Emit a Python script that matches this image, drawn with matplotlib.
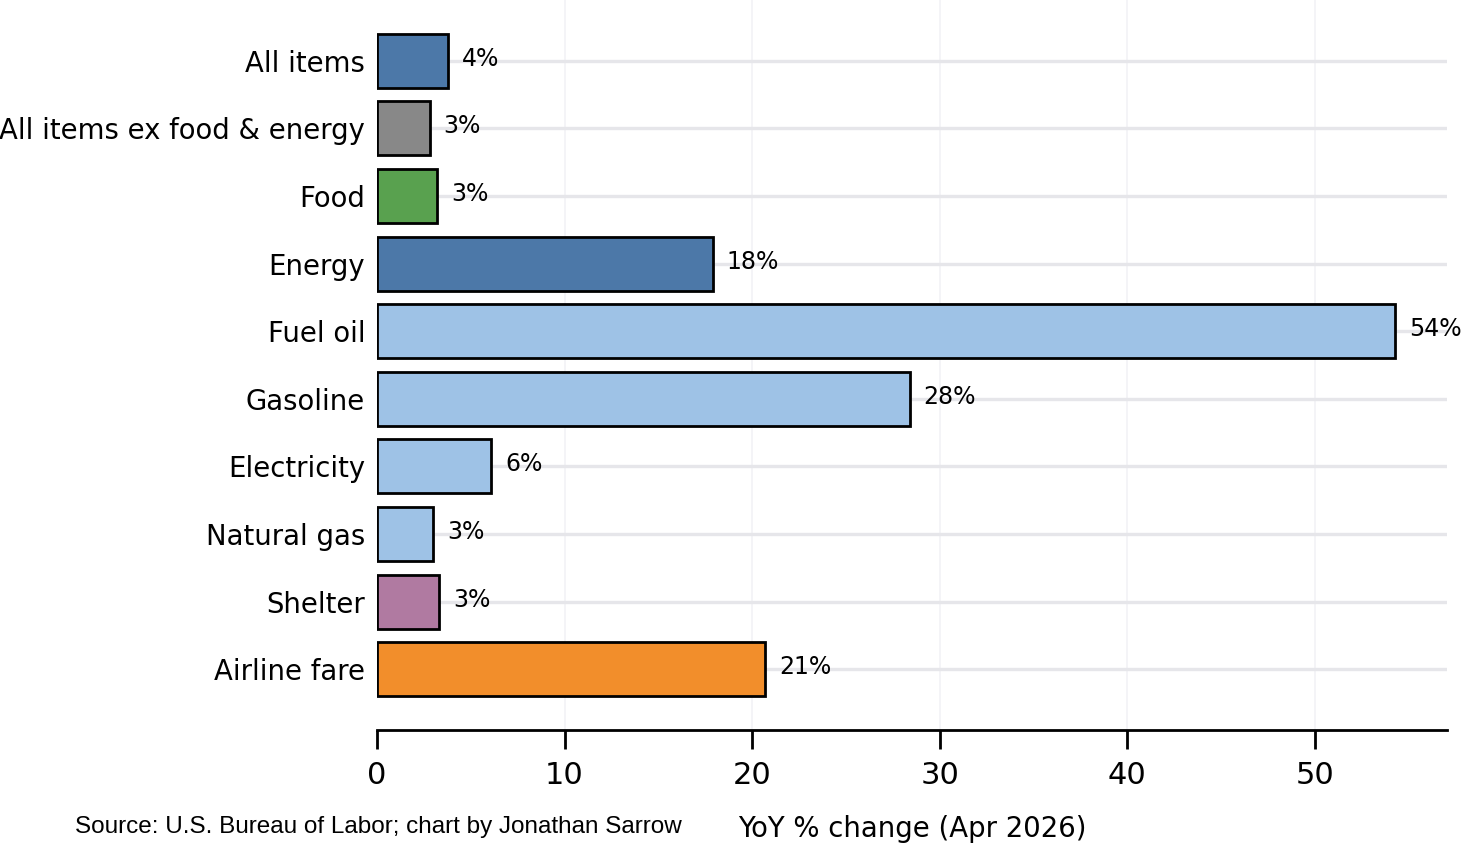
import numpy as np
import matplotlib
matplotlib.use("Agg")
import matplotlib.pyplot as plt

# data
categories = ["All items", "All items ex food & energy", "Food", "Energy", "Fuel oil",
              "Gasoline", "Electricity", "Natural gas", "Shelter", "Airline fare"]
yoy_change = [3.8, 2.8, 3.2, 17.9, 54.3, 28.4, 6.1, 3.0, 3.3, 20.7]
bar_colors = ["#4c78a8", "#888888", "#59a14f", "#4c78a8", "#9ec2e6",
              "#9ec2e6", "#9ec2e6", "#9ec2e6", "#b07aa1", "#f28e2b"]
x_ticks = [0, 10, 20, 30, 40, 50]

fig = plt.figure(figsize=(14.64, 8.44), dpi=100)
ax = fig.add_axes([377 / 1464, 1 - 730 / 844, (1447 - 377) / 1464, 730 / 844])

y = np.arange(len(categories))
ax.barh(y, yoy_change, height=0.8, color=bar_colors, edgecolor="black",
        linewidth=2, zorder=3)

for yi, v in zip(y, yoy_change):
    ax.text(v + 0.75, yi - 0.03, f"{v:.0f}%", va="center", ha="left",
            fontsize=17, zorder=4)

ax.set_ylim(len(categories) - 1 + 0.9, -0.9)
ax.set_xlim(0, 57.05)
ax.set_yticks(y)
ax.set_yticklabels(categories, fontsize=19.8)
ax.set_xticks(x_ticks)
ax.set_xticklabels([str(t) for t in x_ticks], fontsize=22)

# gridlines: faint verticals, light horizontals through bar centres
for t in x_ticks[1:]:
    ax.axvline(t, color="#f2f2f6", linewidth=1.2, zorder=0)
for yi in y:
    ax.axhline(yi, color="#e6e6ea", linewidth=2.4, zorder=1)

for side in ["top", "right", "left"]:
    ax.spines[side].set_visible(False)
ax.spines["bottom"].set_linewidth(2)
ax.tick_params(axis="y", length=0, pad=8.5)
ax.tick_params(axis="x", length=14, width=2, pad=8)

ax.set_xlabel("YoY % change (Apr 2026)", fontsize=19.8, labelpad=18)
fig.text(75 / 1464, 1 - 827 / 844, "Source: U.S. Bureau of Labor; chart by Jonathan Sarrow",
         fontsize=17.5, family="Liberation Sans", va="center", ha="left")

fig.savefig("out.png", dpi=100)
